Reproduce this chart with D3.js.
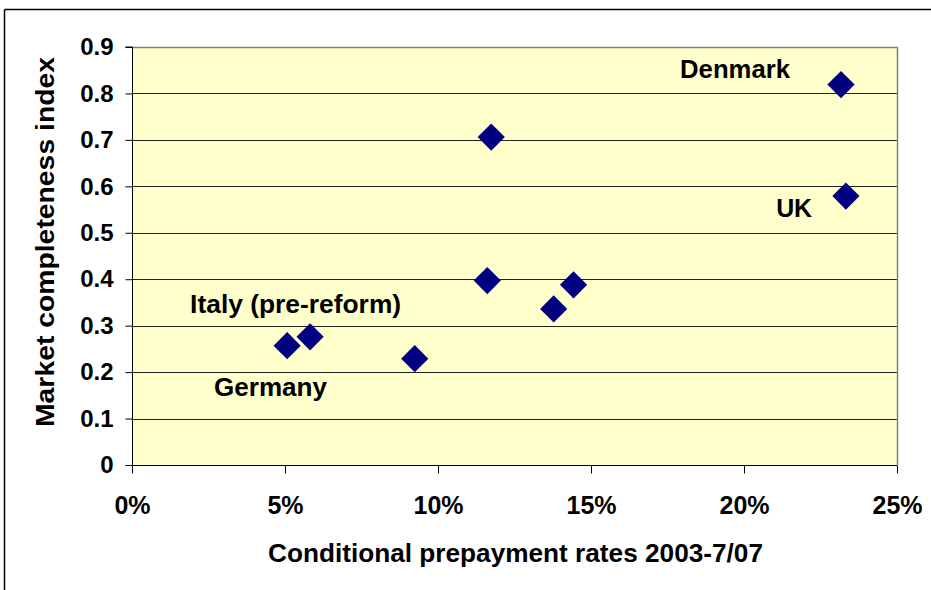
<!DOCTYPE html>
<html>
<head>
<meta charset="utf-8">
<script src="https://cdn.jsdelivr.net/npm/d3@7"></script>
<style>
  html, body { margin: 0; padding: 0; background: #fff; }
  svg { display: block; font-family: "Liberation Sans", Arial, sans-serif; font-weight: bold; }
</style>
</head>
<body>
<svg id="chart" width="931" height="590"></svg>
<script>
// Data
const countries = ["Germany", "Italy (pre-reform)", "C3", "C4", "C5", "C6", "C7", "Denmark", "UK"];
const prepaymentRates = [0.0507, 0.0582, 0.0924, 0.1174, 0.1161, 0.1378, 0.1443, 0.2317, 0.2333];
const completenessIndex = [0.257, 0.276, 0.229, 0.706, 0.397, 0.336, 0.388, 0.819, 0.579];
const xTicks = [0, 0.05, 0.10, 0.15, 0.20, 0.25];
const yTicks = [0, 0.1, 0.2, 0.3, 0.4, 0.5, 0.6, 0.7, 0.8, 0.9];
const labelTexts = ["Denmark", "UK", "Italy (pre-reform)", "Germany"];
const labelX = [0.1791, 0.2105, 0.0190, 0.0268];
const labelY = [0.8333, 0.534, 0.3273, 0.1486];

const svg = d3.select("#chart");
const pL = 132, pR = 897, pT = 47, pB = 465;
const FONT = "'Liberation Sans', Arial, sans-serif";

const x = d3.scaleLinear().domain([0, 0.25]).range([pL, pR]);
const y = d3.scaleLinear().domain([0, 0.9]).range([pB, pT]);

// outer frame
svg.append("line").attr("x1", 4.5).attr("x2", 931).attr("y1", 9.5).attr("y2", 9.5).attr("stroke", "#000").attr("stroke-width", 1.5);
svg.append("line").attr("x1", 4.5).attr("x2", 4.5).attr("y1", 9.5).attr("y2", 590).attr("stroke", "#000").attr("stroke-width", 1.5);

// plot background
svg.append("rect").attr("x", pL).attr("y", pT).attr("width", pR - pL).attr("height", pB - pT)
  .attr("fill", "#FFFFCC");

// grid lines
svg.append("g").selectAll("line").data(yTicks.filter(d => d > 0 && d < 0.9)).join("line")
  .attr("x1", pL).attr("x2", pR)
  .attr("y1", d => Math.round(y(d)) + 0.5).attr("y2", d => Math.round(y(d)) + 0.5)
  .attr("stroke", "#222").attr("stroke-width", 1);

// plot border top/right (grey)
svg.append("path").attr("d", `M${pL},${pT + 0.5}H${pR + 0.5}V${pB}`)
  .attr("fill", "none").attr("stroke", "#808080").attr("stroke-width", 1.5);

// Y axis
const yAxis = d3.axisLeft(y).tickValues(yTicks).tickSize(7).tickPadding(12)
  .tickFormat(d => d === 0 ? "0" : d3.format(".1f")(d));
const gy = svg.append("g").attr("transform", `translate(${pL + 0.5},0)`).call(yAxis);
gy.select(".domain").attr("stroke", "#000").attr("d", `M-7,${pT}H0V${pB}`);
gy.selectAll(".tick line").attr("stroke", "#000");
gy.selectAll(".tick text").attr("fill", "#000").style("font-size", "24px").style("font-weight", "bold")
  .style("font-family", FONT);

// X axis
const xAxis = d3.axisBottom(x).tickValues(xTicks).tickSize(8).tickPadding(23)
  .tickFormat(d3.format(".0%"));
const gx = svg.append("g").attr("transform", `translate(0,${pB + 0.5})`).call(xAxis);
gx.select(".domain").attr("stroke", "#000").attr("d", `M${pL},0H${pR}`);
gx.selectAll(".tick line").attr("stroke", "#000");
gx.selectAll(".tick text").attr("fill", "#000").style("font-size", "25px").style("font-weight", "bold")
  .style("font-family", FONT);

// points
const sym = d3.symbol().type(d3.symbolSquare).size(370);
svg.append("g").selectAll("path").data(prepaymentRates).join("path")
  .attr("d", sym)
  .attr("transform", (d, i) => `translate(${x(d)},${y(completenessIndex[i])}) rotate(45)`)
  .attr("fill", "#000080");

// labels
const labelW = [110, 36, 211, 113];
svg.append("g").selectAll("text").data(labelTexts).join("text")
  .attr("x", (d, i) => x(labelX[i])).attr("y", (d, i) => y(labelY[i]))
  .attr("font-size", 25).attr("fill", "#000")
  .attr("textLength", (d, i) => labelW[i]).attr("lengthAdjust", "spacingAndGlyphs")
  .text(d => d);

// axis titles
svg.append("text").attr("x", 515.5).attr("y", 562).attr("text-anchor", "middle")
  .attr("font-size", 25).attr("fill", "#000")
  .attr("textLength", 495).attr("lengthAdjust", "spacingAndGlyphs")
  .text("Conditional prepayment rates 2003-7/07");
svg.append("text").attr("transform", `translate(54,242) rotate(-90)`).attr("text-anchor", "middle")
  .attr("font-size", 25).attr("fill", "#000")
  .attr("textLength", 370).attr("lengthAdjust", "spacingAndGlyphs")
  .text("Market completeness index");
</script>
</body>
</html>
